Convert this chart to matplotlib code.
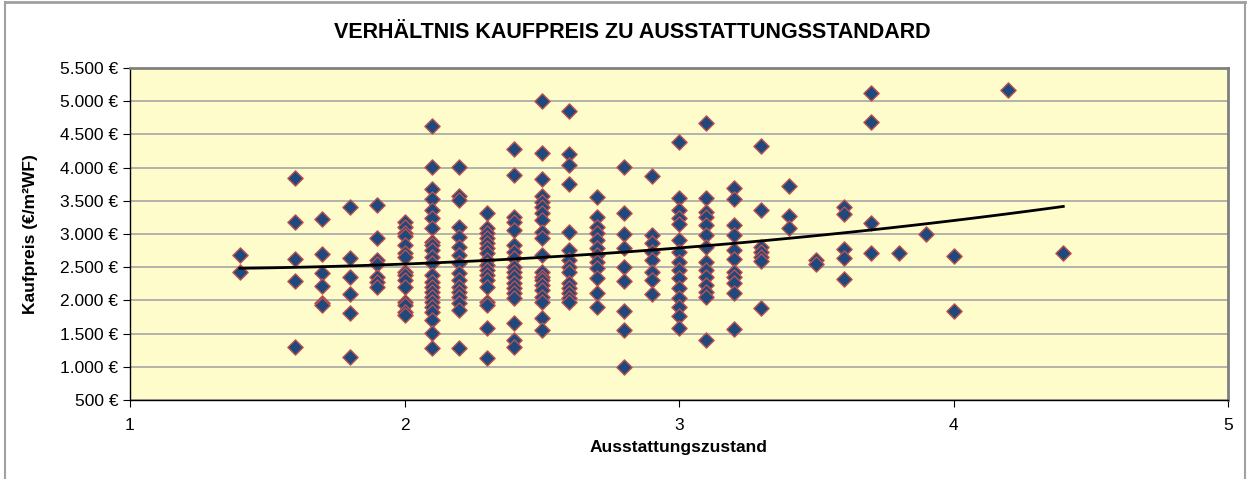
import numpy as np
import matplotlib.pyplot as plt
from matplotlib.lines import Line2D
from matplotlib.ticker import FuncFormatter

# Ausstattungszustand (x) und zugehoerige Kaufpreise in EUR/m2 WF (y)
stufen = [1.4, 1.6, 1.7, 1.8, 1.9, 2.0, 2.1, 2.2, 2.3, 2.4, 2.5, 2.6, 2.7, 2.8,
          2.9, 3.0, 3.1, 3.2, 3.3, 3.4, 3.5, 3.6, 3.7, 3.8, 3.9, 4.0, 4.2, 4.4]
preise = [
    [2684, 2432],
    [3839, 3185, 2624, 2297, 1294],
    [3221, 2699, 2408, 2217, 1966, 1931],
    [3402, 2634, 2348, 2096, 1815, 1152],
    [3437, 2935, 2608, 2548, 2357, 2282, 2206],
    [3185, 3110, 3010, 2970, 2834, 2710, 2658, 2432, 2383, 2307, 2206, 1980, 1930, 1830, 1780],
    [4627, 4005, 3674, 3523, 3362, 3237, 3086, 2884, 2834, 2759, 2658, 2559, 2383, 2282,
     2206, 2131, 2056, 1980, 1905, 1830, 1705, 1505, 1279],
    [4005, 3572, 3512, 3110, 2959, 2809, 2684, 2559, 2408, 2307, 2206, 2131, 2056, 1956, 1855, 1279],
    [3321, 3086, 3010, 2935, 2860, 2785, 2709, 2608, 2533, 2458, 2383, 2307, 2206, 1980, 1931, 1580, 1128],
    [4276, 3889, 3261, 3185, 3060, 2834, 2734, 2634, 2508, 2432, 2357, 2257, 2182, 2107, 2032,
     1655, 1404, 1303],
    [5008, 4225, 3824, 3572, 3487, 3411, 3312, 3211, 3035, 2935, 2684, 2432, 2357, 2307, 2232,
     2157, 2056, 1980, 1731, 1554],
    [4857, 4205, 4039, 3753, 3035, 2759, 2608, 2508, 2432, 2257, 2182, 2107, 2032, 1980],
    [3562, 3252, 3110, 3010, 2910, 2785, 2684, 2583, 2483, 2333, 2107, 1905],
    [4005, 3312, 2996, 2794, 2499, 2292, 1845, 1554, 1002],
    [3874, 2985, 2860, 2734, 2608, 2432, 2307, 2096],
    [4390, 3547, 3361, 3237, 3151, 2910, 2734, 2583, 2458, 2333, 2182, 2032, 1905, 1765, 1580],
    [4667, 3547, 3336, 3261, 3136, 2985, 2809, 2583, 2458, 2357, 2232, 2131, 2056, 1404],
    [3688, 3523, 3136, 2985, 2759, 2619, 2432, 2357, 2257, 2116, 1565],
    [4325, 3361, 2809, 2734, 2658, 2598, 1881],
    [3723, 3271, 3086],
    [2608, 2548],
    [3411, 3301, 2770, 2634, 2318],
    [5119, 4691, 3161, 2719],
    [2709],
    [2996],
    [2669, 1845],
    [5169],
    [2709],
]

x = np.concatenate([[s] * len(p) for s, p in zip(stufen, preise)])
y = np.concatenate(preise)

# polynomischer Trend 2. Ordnung wie in Excel
coef = np.polyfit(x, y, 2)
xt = np.linspace(x.min(), x.max(), 100)
yt = np.polyval(coef, xt)

plt.rcParams['font.family'] = ['Liberation Sans', 'DejaVu Sans']

fig = plt.figure(figsize=(12.53, 4.79), dpi=100)
ax = fig.add_axes([130 / 1253, 1 - 400 / 479, 1098 / 1253, 332 / 479])
ax.set_facecolor('#FFFCCB')

ax.scatter(x, y, marker='D', s=60, facecolor='#1F497D', edgecolor='#C0504D',
           linewidths=1.0, zorder=3)
ax.plot(xt, yt, color='black', lw=2, zorder=4)

ax.set_xlim(1, 5)
ax.set_ylim(500, 5500)
ax.set_xticks([1, 2, 3, 4, 5])
ax.set_yticks(np.arange(500, 5501, 500))
ax.yaxis.set_major_formatter(FuncFormatter(lambda v, p: f'{int(v):,}'.replace(',', '.') + ' €'))
ax.tick_params(labelsize=12.5, length=5, color='black')
ax.tick_params(axis='x', pad=8)
ax.grid(axis='y', color='#A6A6A6', lw=1.2, zorder=1)
ax.set_axisbelow(True)

for side in ['top', 'right']:
    ax.spines[side].set_color('#808080')
    ax.spines[side].set_linewidth(2)
for side in ['left', 'bottom']:
    ax.spines[side].set_color('black')
    ax.spines[side].set_linewidth(1)

ax.set_xlabel('Ausstattungszustand', fontsize=12.5, fontweight='bold', labelpad=5)
ax.set_ylabel('Kaufpreis (€/m²WF)', fontsize=12.5, fontweight='bold', labelpad=16)
fig.text(0.505, 1 - 32 / 479, 'VERHÄLTNIS KAUFPREIS ZU AUSSTATTUNGSSTANDARD',
         ha='center', va='center', fontsize=15.5, fontweight='bold')

# Rahmen des Diagrammbereichs
fig.add_artist(Line2D([5 / 1253, 5 / 1253], [0, 1 - 2 / 479], color='#A0A0A0', lw=1.5,
                      transform=fig.transFigure))
fig.add_artist(Line2D([5 / 1253, 1245 / 1253], [1 - 2 / 479, 1 - 2 / 479], color='#A0A0A0',
                      lw=2, transform=fig.transFigure))
fig.add_artist(Line2D([1245 / 1253, 1245 / 1253], [0, 1 - 2 / 479], color='#A0A0A0', lw=1.5,
                      transform=fig.transFigure))

fig.savefig('out.png', dpi=100)
